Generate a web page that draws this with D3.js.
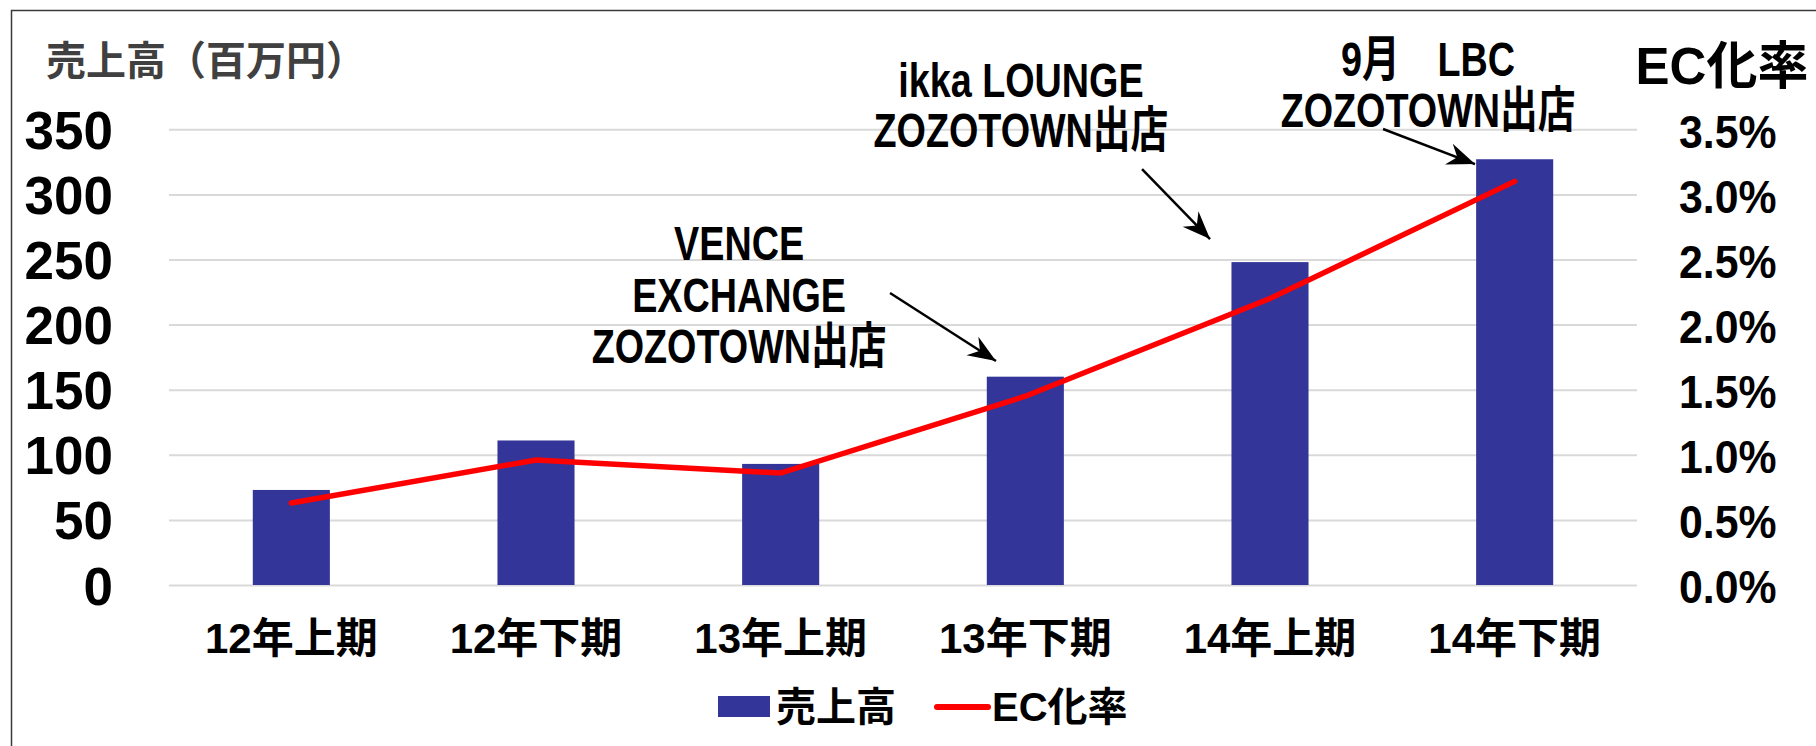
<!DOCTYPE html>
<html><head><meta charset="utf-8">
<script src="https://cdn.jsdelivr.net/npm/d3@7"></script>
<style>body{margin:0;background:#fff;} svg{display:block;}</style>
</head><body>
<svg id="chart" width="1816" height="746"></svg>
<script>
// ---- data ----
const categories = ["12年上期","12年下期","13年上期","13年下期","14年上期","14年下期"];
const sales = [73, 111, 93, 160, 248, 327];
const ecRate = [0.0063, 0.0096, 0.0086, 0.0145, 0.022, 0.031];
const leftTicks = [0, 50, 100, 150, 200, 250, 300, 350];
const rightTicks = [0, 0.005, 0.01, 0.015, 0.02, 0.025, 0.03, 0.035];
const seriesNames = ["売上高", "EC化率"];
const leftTitle = "売上高（百万円）";
const rightTitle = "EC化率";
const noteTexts = [
  ["VENCE", "EXCHANGE", "ZOZOTOWN出店"],
  ["ikka LOUNGE", "ZOZOTOWN出店"],
  ["9月\u3000LBC", "ZOZOTOWN出店"]
];

// ---- layout (annotation anchors in data space: category index, sales units) ----
const noteLayout = [
  {cx: 2.33, lines: [249.6, 209.7, 170.5], from: [2.947, 224.3], to: [3.38, 172]},
  {cx: 3.482, lines: [374.8, 336.4], from: [3.977, 319.5], to: [4.255, 265.7]},
  {cx: 5.146, lines: [391, 351.8], from: [4.962, 350.2], to: [5.338, 323.3]}
];

const W = 1816, H = 746;
const plot = {left: 169, right: 1637, top: 129.3, bottom: 585};
const CJK = "'Noto Sans CJK JP', sans-serif";
const LAT = "'Liberation Sans', 'Noto Sans CJK JP', sans-serif";

const svg = d3.select("#chart");

// frame
svg.append("rect").attr("x", 11.5).attr("y", 10.5)
  .attr("width", W + 20).attr("height", H + 20)
  .attr("fill", "none").attr("stroke", "#3a3a3a").attr("stroke-width", 1.5);

const x = d3.scaleBand().domain(categories).range([plot.left, plot.right]).padding(0);
const xi = d3.scaleLinear().domain([0, categories.length]).range([plot.left, plot.right]);
const yL = d3.scaleLinear().domain([0, 350]).range([plot.bottom, plot.top]);
const yR = d3.scaleLinear().domain([0, 0.035]).range([plot.bottom, plot.top]);

// left axis with gridlines
const gL = svg.append("g").attr("transform", `translate(${plot.left},0)`)
  .call(d3.axisLeft(yL).tickValues(leftTicks).tickSize(-(plot.right - plot.left)).tickPadding(56));
gL.select(".domain").remove();
gL.selectAll(".tick line").attr("stroke", "#d9d9d9").attr("stroke-width", 2);
gL.selectAll(".tick text").attr("font-family", LAT).attr("font-weight", "bold")
  .attr("font-size", 53).attr("fill", "#000").attr("dy", "0.36em");

// right axis
const gR = svg.append("g").attr("transform", `translate(${plot.right},0)`)
  .call(d3.axisRight(yR).tickValues(rightTicks).tickSize(0).tickPadding(42)
    .tickFormat(d => (d * 100).toFixed(1) + "%"));
gR.select(".domain").remove();
gR.selectAll(".tick text").attr("font-family", LAT).attr("font-weight", "bold")
  .attr("font-size", 47).attr("fill", "#000").attr("dy", "0.38em")
  .attr("transform", "scale(0.91,1)").attr("x", 42 / 0.91);

// x labels
svg.append("g").selectAll("text").data(categories).join("text")
  .attr("x", d => x(d) + x.bandwidth() / 2).attr("y", 638).attr("dy", "0.36em")
  .attr("text-anchor", "middle").attr("font-family", LAT).attr("font-weight", "bold")
  .attr("font-size", 42).attr("fill", "#000").text(d => d);

// bars
const bw = x.bandwidth() * 0.315;
svg.append("g").selectAll("rect").data(sales).join("rect")
  .attr("x", (d, i) => x(categories[i]) + x.bandwidth() / 2 - bw / 2)
  .attr("width", bw)
  .attr("y", d => yL(d)).attr("height", d => yL(0) - yL(d))
  .attr("fill", "#343598");

// line
const line = d3.line().x((d, i) => x(categories[i]) + x.bandwidth() / 2).y(d => yR(d));
svg.append("path").datum(ecRate).attr("d", line)
  .attr("fill", "none").attr("stroke", "#ff0000").attr("stroke-width", 5.5)
  .attr("stroke-linecap", "round").attr("stroke-linejoin", "miter");

// axis titles
svg.append("text").attr("x", 46).attr("y", 75).attr("font-family", CJK).attr("font-weight", "bold")
  .attr("font-size", 40).attr("fill", "#404040").text(leftTitle);
svg.append("text").attr("x", 1722).attr("y", 84).attr("text-anchor", "middle")
  .attr("font-family", LAT).attr("font-weight", "bold")
  .attr("font-size", 51).attr("fill", "#000").text(rightTitle);

// arrow marker
const defs = svg.append("defs");
defs.append("marker").attr("id", "arr").attr("markerUnits", "userSpaceOnUse")
  .attr("viewBox", "-30 -14 32 28").attr("refX", 0).attr("refY", 0)
  .attr("markerWidth", 32).attr("markerHeight", 28).attr("orient", "auto")
  .append("path").attr("d", "M0,0 L-28,-11 L-19,0 L-28,11 Z").attr("fill", "#000");

// annotations
noteLayout.forEach((n, k) => {
  const g = svg.append("g");
  noteTexts[k].forEach((t, j) => {
    g.append("text")
      .attr("transform", `translate(${xi(n.cx)},${yL(n.lines[j])}) scale(0.77,1)`)
      .attr("text-anchor", "middle").attr("font-family", LAT).attr("font-weight", "bold")
      .attr("font-size", 49).attr("fill", "#000").text(t);
  });
  g.append("line")
    .attr("x1", xi(n.from[0])).attr("y1", yL(n.from[1]))
    .attr("x2", xi(n.to[0])).attr("y2", yL(n.to[1]))
    .attr("stroke", "#000").attr("stroke-width", 2.5).attr("marker-end", "url(#arr)");
});

// legend
const lg = svg.append("g");
lg.append("rect").attr("x", 718).attr("y", 696).attr("width", 52).attr("height", 21).attr("fill", "#343598");
lg.append("text").attr("x", 776).attr("y", 707).attr("dy", "0.36em").attr("font-family", CJK)
  .attr("font-weight", "bold").attr("font-size", 40).attr("fill", "#000").text(seriesNames[0]);
lg.append("line").attr("x1", 937).attr("x2", 988).attr("y1", 707).attr("y2", 707)
  .attr("stroke", "#ff0000").attr("stroke-width", 6).attr("stroke-linecap", "round");
lg.append("text").attr("x", 992).attr("y", 707).attr("dy", "0.36em").attr("font-family", LAT)
  .attr("font-weight", "bold").attr("font-size", 40).attr("fill", "#000").text(seriesNames[1]);
</script>
</body></html>
